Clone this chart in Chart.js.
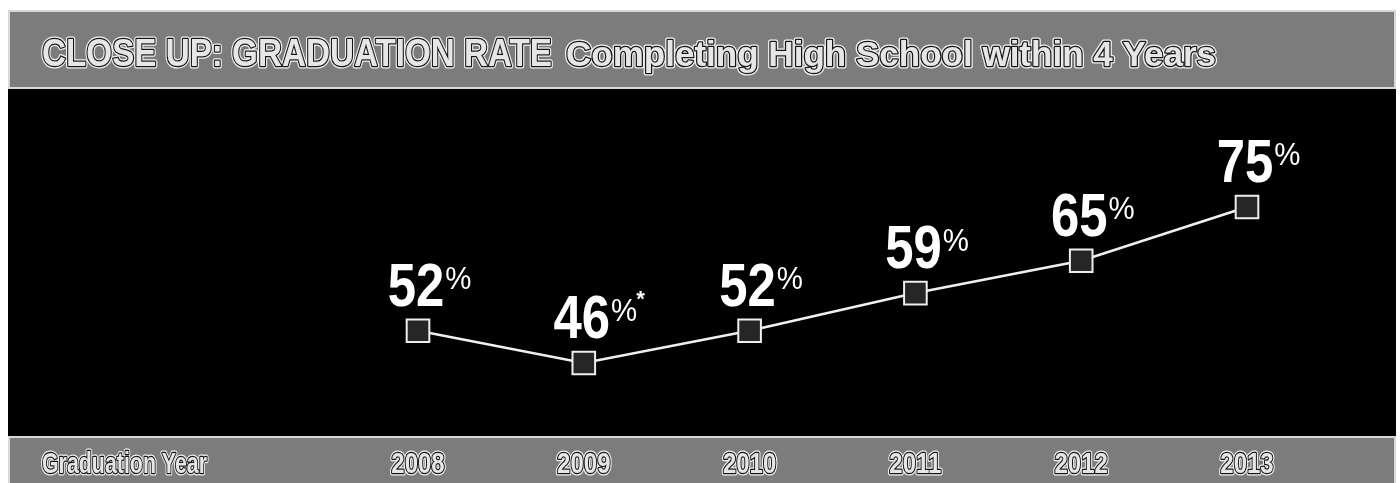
<!DOCTYPE html>
<html>
<head>
<meta charset="utf-8">
<script src="https://cdn.jsdelivr.net/npm/chart.js@4/dist/chart.umd.min.js"></script>
<style>
  html, body { margin: 0; padding: 0; background: #fff; overflow: hidden; }
  #wrap { width: 1400px; height: 483px; }
</style>
</head>
<body>
<div id="wrap"><canvas id="c" width="1400" height="483"></canvas></div>
<script>
// Four-year graduation rate by graduating class
const years = ['2008', '2009', '2010', '2011', '2012', '2013'];
const rates = [52, 46, 52, 59, 65, 75];
const rateNotes = ['', '*', '', '', '', ''];

const titleMain = 'CLOSE UP: GRADUATION RATE';
const titleSub = 'Completing High School within 4 Years';
const axisCaption = 'Graduation Year';

const FONT = '"Liberation Sans", Arial, Helvetica, sans-serif';

// Draw text squeezed horizontally by scaleX, anchored at x by align
function drawSquashed(ctx, text, x, y, font, scaleX, align, style) {
  ctx.save();
  ctx.font = font;
  ctx.textBaseline = 'alphabetic';
  const w = ctx.measureText(text).width * scaleX;
  let left = x;
  if (align === 'center') left = x - w / 2;
  if (align === 'right') left = x - w;
  ctx.translate(left, y);
  ctx.scale(scaleX, 1);
  ctx.lineJoin = 'round';
  if (style.halo) {
    ctx.strokeStyle = style.halo;
    ctx.lineWidth = style.haloWidth;
    ctx.strokeText(text, 0, 0);
  }
  if (style.stroke) {
    ctx.strokeStyle = style.stroke;
    ctx.lineWidth = style.strokeWidth;
    ctx.strokeText(text, 0, 0);
  }
  ctx.fillStyle = style.fill;
  ctx.fillText(text, 0, 0);
  ctx.restore();
  return { left, right: left + w };
}

// Same, but squeezed to fit an exact width
function drawFitted(ctx, text, x, y, font, width, style) {
  ctx.save();
  ctx.font = font;
  const natural = ctx.measureText(text).width;
  ctx.restore();
  return drawSquashed(ctx, text, x, y, font, width / natural, 'left', style);
}

const bandText = { halo: '#f2f2f2', haloWidth: 5, stroke: '#151515', strokeWidth: 2.5, fill: '#e6e6e6' };

const panelPlugin = {
  id: 'panel',
  beforeDraw(chart) {
    const ctx = chart.ctx;
    const xs = chart.scales.x;
    ctx.save();
    // page and black panel
    ctx.fillStyle = '#ffffff';
    ctx.fillRect(0, 0, chart.width, chart.height);
    ctx.fillStyle = '#000000';
    ctx.fillRect(8, 10, 1388, 473);

    // header band
    ctx.fillStyle = '#7c7c7c';
    ctx.fillRect(9, 11, 1386, 77);
    ctx.strokeStyle = '#d8d8d8';
    ctx.lineWidth = 2;
    ctx.strokeRect(9, 11, 1386, 77);

    // footer band
    ctx.fillStyle = '#7c7c7c';
    ctx.fillRect(9, 437, 1386, 60);
    ctx.strokeRect(9, 437, 1386, 60);
    ctx.restore();

    drawFitted(ctx, titleMain, 42, 66, 'bold 38px ' + FONT, 510, bandText);
    drawFitted(ctx, titleSub, 566, 66, 'bold 35px ' + FONT, 650, bandText);

    drawFitted(ctx, axisCaption, 42, 473, 'bold 30px ' + FONT, 165, bandText);
    years.forEach((yr, i) => {
      drawSquashed(ctx, yr, xs.getPixelForValue(i), 473, 'bold 30px ' + FONT, 0.8, 'center', bandText);
    });
  },
  afterDatasetsDraw(chart) {
    const ctx = chart.ctx;
    const meta = chart.getDatasetMeta(0);
    const plain = { fill: '#ffffff' };
    meta.data.forEach((pt, i) => {
      const base = pt.y - 25;
      const num = drawSquashed(ctx, String(rates[i]), pt.x - 2, base, 'bold 62px ' + FONT, 0.82, 'center', plain);
      const pct = drawSquashed(ctx, '%', num.right + 1, base - 17, '32px ' + FONT, 0.92, 'left', plain);
      if (rateNotes[i]) {
        drawSquashed(ctx, rateNotes[i], pct.right - 1, base - 32, 'bold 22px ' + FONT, 1, 'left', plain);
      }
    });
  }
};

new Chart(document.getElementById('c'), {
  type: 'line',
  data: {
    labels: years,
    datasets: [{
      data: rates,
      borderColor: '#f0f0f0',
      borderWidth: 2.5,
      tension: 0,
      fill: false,
      clip: false,
      pointStyle: 'rect',
      pointRadius: 16,
      pointBackgroundColor: '#262626',
      pointBorderColor: '#eeeeee',
      pointBorderWidth: 2
    }]
  },
  options: {
    responsive: false,
    devicePixelRatio: 1,
    animation: false,
    events: [],
    layout: { padding: { left: 418, right: 153, top: 100, bottom: 63 } },
    plugins: { legend: { display: false }, tooltip: { enabled: false } },
    scales: {
      x: { type: 'category', offset: false, display: false },
      y: { min: 35.4, max: 94.9, display: false }
    }
  },
  plugins: [panelPlugin]
});
</script>
</body>
</html>
